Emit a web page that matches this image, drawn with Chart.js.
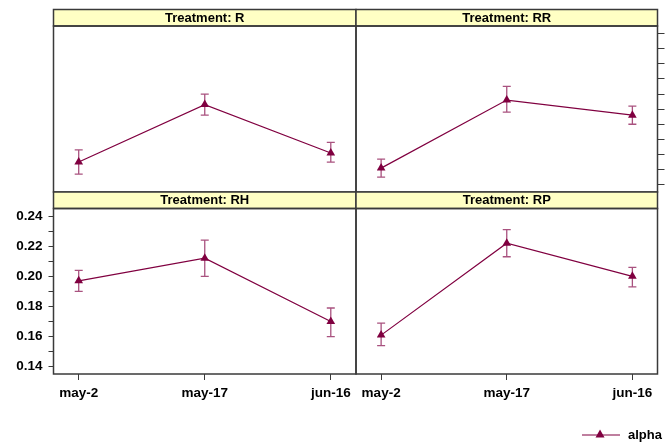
<!DOCTYPE html>
<html>
<head>
<meta charset="utf-8">
<script src="https://cdn.jsdelivr.net/npm/chart.js@4/dist/chart.umd.min.js"></script>
<style>
  body { margin: 0; background: #fff; }
  #wrap { position: relative; width: 668px; height: 445px; }
  #wrap canvas { position: absolute; left: 0; top: 0; }
</style>
</head>
<body>
<div id="wrap">
  <canvas id="pR" width="668" height="445"></canvas>
  <canvas id="pRR" width="668" height="445"></canvas>
  <canvas id="pRH" width="668" height="445"></canvas>
  <canvas id="pRP" width="668" height="445"></canvas>
</div>
<script>
// data
var categories = ['may-2', 'may-17', 'jun-16'];
var treatments = ['R', 'RR', 'RH', 'RP'];
var yTickLabels = ['0.14', '0.16', '0.18', '0.20', '0.22', '0.24'];

var alphaR  = [0.155, 0.193, 0.161];
var lowR    = [0.147, 0.186, 0.155];
var highR   = [0.163, 0.200, 0.168];

var alphaRR = [0.151, 0.196, 0.186];
var lowRR   = [0.145, 0.188, 0.180];
var highRR  = [0.157, 0.205, 0.192];

var alphaRH = [0.197, 0.212, 0.170];
var lowRH   = [0.190, 0.200, 0.160];
var highRH  = [0.204, 0.224, 0.179];

var alphaRP = [0.161, 0.222, 0.200];
var lowRP   = [0.154, 0.213, 0.193];
var highRP  = [0.169, 0.231, 0.206];

var lineCol = '#800040';
var barCol = '#a9527f';
var stripCol = '#ffffc4';
var edgeCol = '#3a3a3a';
var font = { family: '"Liberation Sans", Arial, sans-serif', size: 13.5, weight: 'bold' };

// panel boxes on the page
var panels = [
  { id: 'pR',  vals: alphaR,  lo: lowR,  hi: highR,  left: 53.5, right: 356,   top: 26,    bottom: 192, yAxis: null,    xAxis: false },
  { id: 'pRR', vals: alphaRR, lo: lowRR, hi: highRR, left: 356,  right: 657.5, top: 26,    bottom: 192, yAxis: 'right', xAxis: false },
  { id: 'pRH', vals: alphaRH, lo: lowRH, hi: highRH, left: 53.5, right: 356,   top: 208.5, bottom: 374, yAxis: 'left',  xAxis: true },
  { id: 'pRP', vals: alphaRP, lo: lowRP, hi: highRP, left: 356,  right: 657.5, top: 208.5, bottom: 374, yAxis: null,    xAxis: true }
];
var stripH = 16.5;

var errorBars = {
  id: 'errorBars',
  beforeDatasetsDraw: function(chart, args, opts) {
    var ctx = chart.ctx, xs = chart.scales.x, ys = chart.scales.y;
    ctx.save();
    ctx.strokeStyle = barCol;
    ctx.lineWidth = 1.3;
    opts.lo.forEach(function(lo, i) {
      var x = xs.getPixelForValue(i);
      var y1 = ys.getPixelForValue(lo), y2 = ys.getPixelForValue(opts.hi[i]);
      ctx.beginPath();
      ctx.moveTo(x, y1); ctx.lineTo(x, y2);
      ctx.moveTo(x - 4, y1); ctx.lineTo(x + 4, y1);
      ctx.moveTo(x - 4, y2); ctx.lineTo(x + 4, y2);
      ctx.stroke();
    });
    ctx.restore();
  }
};

var panelFrame = {
  id: 'panelFrame',
  afterDraw: function(chart, args, opts) {
    var ctx = chart.ctx, a = chart.chartArea;
    ctx.save();
    ctx.fillStyle = stripCol;
    ctx.fillRect(a.left, a.top - stripH, a.right - a.left, stripH);
    ctx.strokeStyle = edgeCol;
    ctx.lineWidth = 1.5;
    ctx.strokeRect(a.left, a.top - stripH, a.right - a.left, stripH);
    ctx.strokeRect(a.left, a.top, a.right - a.left, a.bottom - a.top);
    ctx.fillStyle = '#000';
    ctx.font = 'bold 13px "Liberation Sans", Arial, sans-serif';
    ctx.textAlign = 'center';
    ctx.textBaseline = 'middle';
    ctx.fillText('Treatment: ' + opts.name, (a.left + a.right) / 2, a.top - stripH / 2 + 0.5);
    if (opts.legend) {
      ctx.strokeStyle = lineCol;
      ctx.lineWidth = 1.2;
      ctx.beginPath();
      ctx.moveTo(582, 435); ctx.lineTo(620, 435);
      ctx.stroke();
      ctx.fillStyle = lineCol;
      ctx.beginPath();
      ctx.moveTo(600, 429.5); ctx.lineTo(604.5, 437.5); ctx.lineTo(595.5, 437.5);
      ctx.closePath();
      ctx.fill();
      ctx.fillStyle = '#000';
      ctx.font = 'bold 13px "Liberation Sans", Arial, sans-serif';
      ctx.textAlign = 'left';
      ctx.fillText('alpha', 628, 435);
    }
    ctx.restore();
  }
};

panels.forEach(function(p, n) {
  var yw = p.yAxis === 'left' ? 53.5 : (p.yAxis === 'right' ? 10 : 0);
  var xh = p.xAxis ? 30 : 0;
  new Chart(document.getElementById(p.id), {
    type: 'line',
    data: {
      datasets: [{
        label: 'alpha',
        data: p.vals.map(function(v, i) { return { x: i, y: v }; }),
        borderColor: lineCol,
        borderWidth: 1.2,
        pointStyle: 'triangle',
        pointRadius: 5,
        pointBackgroundColor: lineCol,
        pointBorderWidth: 0,
        tension: 0
      }]
    },
    options: {
      responsive: false,
      animation: false,
      devicePixelRatio: 1,
      layout: {
        padding: {
          left: p.yAxis === 'left' ? p.left - yw : p.left,
          right: p.yAxis === 'right' ? 668 - p.right - yw : 668 - p.right,
          top: p.top,
          bottom: 445 - p.bottom - xh
        }
      },
      scales: {
        x: {
          type: 'linear',
          min: -0.2,
          max: 2.2,
          display: p.xAxis,
          afterFit: function(s) { s.height = xh; },
          afterBuildTicks: function(s) {
            s.ticks = categories.map(function(c, i) { return { value: i }; });
          },
          grid: { drawOnChartArea: false, tickLength: 6, color: edgeCol },
          border: { display: false },
          ticks: {
            autoSkip: false,
            maxRotation: 0,
            padding: 5,
            color: '#000',
            font: font,
            callback: function(v) { return categories[v] || ''; }
          }
        },
        y: {
          type: 'linear',
          position: p.yAxis === 'right' ? 'right' : 'left',
          min: 0.1352,
          max: 0.2450,
          display: p.yAxis !== null,
          afterFit: function(s) { s.width = yw; },
          afterBuildTicks: function(s) {
            var t = [];
            for (var k = 0; k <= 10; k++) t.push({ value: +(0.14 + k * 0.01).toFixed(2) });
            s.ticks = t;
          },
          grid: { drawOnChartArea: false, tickLength: p.yAxis === 'right' ? 7 : 5, color: edgeCol },
          border: { display: false },
          ticks: {
            autoSkip: false,
            padding: 6,
            color: '#000',
            font: font,
            display: p.yAxis === 'left',
            callback: function(v) {
              var lab = yTickLabels.filter(function(l) { return Math.abs(Number(l) - v) < 1e-9; });
              return lab.length ? lab[0] : '';
            }
          }
        }
      },
      plugins: {
        legend: { display: false },
        tooltip: { enabled: false },
        errorBars: { lo: p.lo, hi: p.hi },
        panelFrame: { name: treatments[n], legend: n === 3 }
      }
    },
    plugins: [errorBars, panelFrame]
  });
});
</script>
</body>
</html>
